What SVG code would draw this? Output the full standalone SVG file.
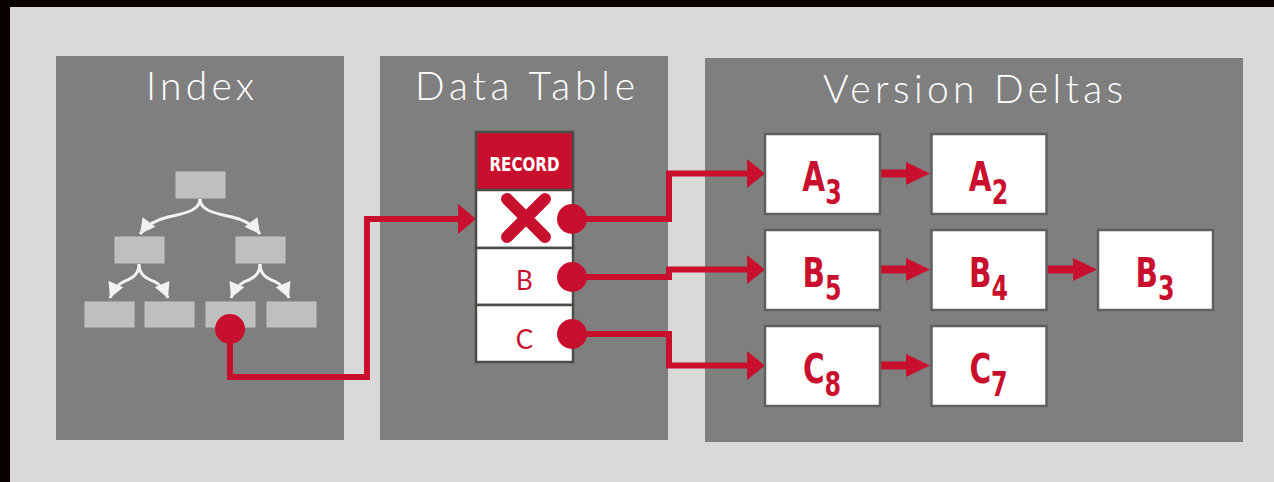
<svg xmlns="http://www.w3.org/2000/svg" width="1274" height="482" viewBox="0 0 1274 482">
<style>
.panel{fill:#7f7f7f}
.title{fill:#ffffff;font-family:Lato,"Open Sans","DejaVu Sans",sans-serif;font-weight:300;font-size:39px}
.tbox{fill:#bfbfbf;stroke:#c4c4c4;stroke-width:1}
.tarrow{fill:none;stroke:#f2f2f2;stroke-width:3}
.red{fill:#c8102e}
.conn{fill:none;stroke:#c8102e;stroke-width:6}
.row{fill:#ffffff;stroke:#4b4b47;stroke-width:2.5}
.rowtxt{fill:#c8102e;font-family:Lato,"Open Sans","DejaVu Sans",sans-serif;font-weight:400;font-size:26px;text-anchor:middle}
.rec{fill:#ffffff;font-family:"DejaVu Sans",sans-serif;font-stretch:condensed;font-weight:bold;font-size:20px;text-anchor:middle}
.dbox{fill:#ffffff;stroke:#606060;stroke-width:2.5}
.dtxt{fill:#c8102e;font-family:"DejaVu Sans",sans-serif;font-stretch:condensed;font-weight:bold;font-size:41px;text-anchor:middle}
.sub{font-size:33px}
</style>
<defs>
<marker id="wa" markerUnits="userSpaceOnUse" markerWidth="20" markerHeight="20" viewBox="-16 -10 20 20" refX="0" refY="0" orient="auto">
<path d="M0,0 L-15,-8 L-15,8 Z" fill="#f2f2f2"/>
</marker>
</defs>
<rect x="0" y="0" width="1274" height="482" fill="#0a0000"/>
<rect x="10" y="7" width="1264" height="475" fill="#d9d9d9"/>

<g id="index-panel">
<rect class="panel" x="56" y="56" width="288" height="384"/>
<text class="title" x="146" y="100" textLength="108" lengthAdjust="spacing">Index</text>
<rect class="tbox" x="176" y="172" width="49" height="26"/>
<rect class="tbox" x="115" y="237" width="49" height="26"/>
<rect class="tbox" x="236" y="237" width="49" height="26"/>
<rect class="tbox" x="85" y="302" width="49" height="25"/>
<rect class="tbox" x="145" y="302" width="49" height="25"/>
<rect class="tbox" x="206" y="302" width="49" height="25"/>
<rect class="tbox" x="267" y="302" width="49" height="25"/>
<path class="tarrow" marker-end="url(#wa)" d="M200,199 C200,212 180,214 168,217 C155,220 146,226 140,234"/>
<path class="tarrow" marker-end="url(#wa)" d="M200,199 C200,212 220,214 232,217 C245,220 254,226 260,234"/>
<path class="tarrow" marker-end="url(#wa)" d="M139,264 C139,276 130,279 123,282 C117,285 113,291 110,298"/>
<path class="tarrow" marker-end="url(#wa)" d="M139,264 C139,276 148,279 155,282 C161,285 165,291 168,298"/>
<path class="tarrow" marker-end="url(#wa)" d="M260,264 C260,276 251,279 244,282 C238,285 234,291 231,298"/>
<path class="tarrow" marker-end="url(#wa)" d="M260,264 C260,276 269,279 276,282 C282,285 286,291 289,298"/>
</g>

<g id="data-table-panel">
<rect class="panel" x="380" y="56" width="288" height="384"/>
<text class="title" x="415" y="100" textLength="220" lengthAdjust="spacing">Data Table</text>
</g>

<g id="version-deltas-panel">
<rect class="panel" x="705" y="58" width="538" height="384"/>
<text class="title" x="823" y="103" textLength="300" lengthAdjust="spacing">Version Deltas</text>
</g>

<g id="connectors">
<path class="conn" d="M230,329 V377 H367 V219 H460"/>
<polygon class="red" points="458,204 476,219 458,234"/>
<path class="conn" d="M572,219 H669 V173.5 H749"/>
<polygon class="red" points="747,159 765,173.5 747,188"/>
<path class="conn" d="M572,277 H669 V269.5 H749"/>
<polygon class="red" points="747,255 765,269.5 747,284"/>
<path class="conn" d="M572,334 H669 V365.5 H749"/>
<polygon class="red" points="747,351 765,365.5 747,380"/>
<rect class="red" x="881" y="169.5" width="27" height="8"/>
<polygon class="red" points="906,162 930,173.5 906,185"/>
<rect class="red" x="881" y="265.5" width="27" height="8"/>
<polygon class="red" points="906,258 930,269.5 906,281"/>
<rect class="red" x="1047" y="265.5" width="27" height="8"/>
<polygon class="red" points="1073,258 1097,269.5 1073,281"/>
<rect class="red" x="881" y="361.5" width="27" height="8"/>
<polygon class="red" points="906,354 930,365.5 906,377"/>
</g>

<g id="index-pointer">
<circle class="red" cx="230" cy="329" r="15"/>
</g>

<g id="record">
<rect x="476" y="132" width="97" height="58" fill="#c8102e" stroke="#4b4b47" stroke-width="2.5"/>
<text class="rec" x="524.5" y="171" textLength="70" lengthAdjust="spacingAndGlyphs">RECORD</text>
<rect class="row" x="476" y="190" width="97" height="58"/>
<rect class="row" x="476" y="248" width="97" height="57"/>
<rect class="row" x="476" y="305" width="97" height="57"/>
<path d="M507,199 L545,237 M545,199 L507,237" stroke="#c8102e" stroke-width="12" stroke-linecap="round" fill="none"/>
<text class="rowtxt" x="524.5" y="290">B</text>
<text class="rowtxt" x="524.5" y="349">C</text>
<circle class="red" cx="572" cy="219" r="15"/>
<circle class="red" cx="572" cy="277" r="15"/>
<circle class="red" cx="572" cy="334" r="15"/>
</g>

<g id="A3"><rect class="dbox" x="765" y="134" width="115" height="80"/><text class="dtxt" transform="translate(822 0) scale(0.8 1)" x="0" y="191.5">A<tspan class="sub" dy="12.5">3</tspan></text></g>
<g id="A2"><rect class="dbox" x="931.5" y="134" width="115" height="80"/><text class="dtxt" transform="translate(988.5 0) scale(0.8 1)" x="0" y="191.5">A<tspan class="sub" dy="12.5">2</tspan></text></g>
<g id="B5"><rect class="dbox" x="765" y="230" width="115" height="80"/><text class="dtxt" transform="translate(822 0) scale(0.8 1)" x="0" y="287.5">B<tspan class="sub" dy="12.5">5</tspan></text></g>
<g id="B4"><rect class="dbox" x="931.5" y="230" width="115" height="80"/><text class="dtxt" transform="translate(988.5 0) scale(0.8 1)" x="0" y="287.5">B<tspan class="sub" dy="12.5">4</tspan></text></g>
<g id="B3"><rect class="dbox" x="1098" y="230" width="115" height="80"/><text class="dtxt" transform="translate(1155 0) scale(0.8 1)" x="0" y="287.5">B<tspan class="sub" dy="12.5">3</tspan></text></g>
<g id="C8"><rect class="dbox" x="765" y="326" width="115" height="80"/><text class="dtxt" transform="translate(822 0) scale(0.8 1)" x="0" y="383.5">C<tspan class="sub" dy="12.5">8</tspan></text></g>
<g id="C7"><rect class="dbox" x="931.5" y="326" width="115" height="80"/><text class="dtxt" transform="translate(988.5 0) scale(0.8 1)" x="0" y="383.5">C<tspan class="sub" dy="12.5">7</tspan></text></g>
</svg>
